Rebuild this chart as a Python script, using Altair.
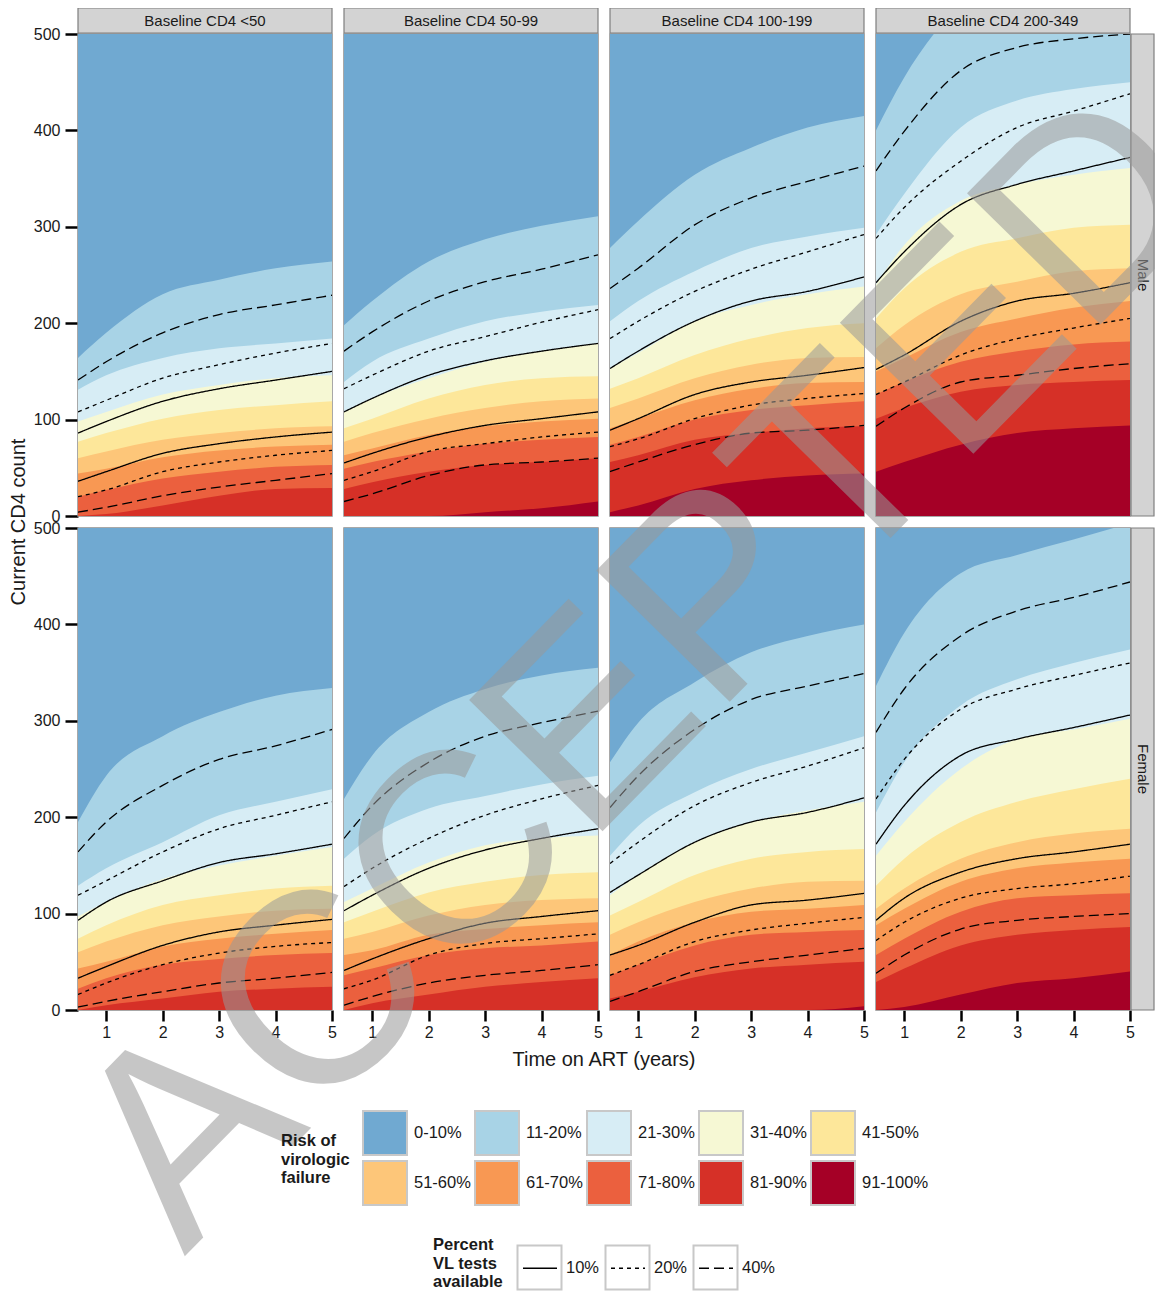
import altair as alt
import pandas as pd

TIMES = [0.5, 1, 2, 3, 4, 5]
SEXES = ["Male", "Female"]
BASELINES = ["Baseline CD4 <50", "Baseline CD4 50-99",
             "Baseline CD4 100-199", "Baseline CD4 200-349"]
RISK_BANDS = ["0-10%", "11-20%", "21-30%", "31-40%", "41-50%",
              "51-60%", "61-70%", "71-80%", "81-90%", "91-100%"]
RISK_COLORS = ["#70a9d1", "#a8d3e6", "#d7edf5", "#f6f8d4", "#fde79a",
               "#fdc679", "#f89853", "#eb603e", "#d63027", "#a50026"]
PCT_LEVELS = ["10%", "20%", "40%"]
LINE_NAMES = ["40% upper", "20% upper", "10% upper",
              "10% lower", "20% lower", "40% lower"]
LINE_PCT = ["40%", "20%", "10%", "10%", "20%", "40%"]
CD4_TOP = 500
WATERMARK = "ACCEPTED"
X_TITLE = "Time on ART (years)"
Y_TITLE = "Current CD4 count"

# Upper edge (current CD4) of bands 11-20% ... 91-100% at TIMES
male_lt50_bands = [
    [164, 190, 230, 245, 257, 264], [131, 146, 164, 174, 179, 184],
    [98, 108, 126, 136, 143, 146], [77, 86, 101, 110, 115, 119],
    [60, 67, 79, 86, 91, 93], [44, 49, 61, 68, 72, 74],
    [20, 27, 39, 46, 51, 53], [0, 2, 11, 21, 28, 29],
    [0, 0, 0, 0, 0, 0]]
male_50_99_bands = [
    [198, 223, 264, 287, 301, 311], [139, 160, 184, 202, 212, 219],
    [108, 122, 143, 160, 171, 179], [91, 101, 122, 136, 143, 145],
    [77, 86, 101, 112, 119, 122], [63, 70, 84, 93, 98, 101],
    [49, 56, 67, 75, 79, 82], [28, 35, 46, 53, 56, 60],
    [0, 0, 0, 4, 8, 15]]
male_100_199_bands = [
    [278, 306, 354, 382, 403, 415], [202, 223, 254, 278, 290, 299],
    [153, 169, 202, 219, 230, 238], [132, 143, 167, 184, 195, 200],
    [112, 122, 143, 157, 164, 165], [91, 101, 120, 132, 138, 139],
    [74, 82, 100, 110, 115, 119], [56, 63, 79, 86, 91, 93],
    [4, 11, 28, 37, 42, 44]]
male_200_349_bands = [
    [400, 455, 530, 560, 580, 600], [292, 334, 403, 431, 443, 450],
    [240, 281, 327, 344, 354, 361], [205, 236, 274, 288, 299, 302],
    [174, 198, 230, 243, 254, 257], [150, 164, 191, 205, 216, 223],
    [126, 139, 160, 171, 178, 181], [101, 112, 129, 136, 139, 141],
    [46, 56, 74, 86, 91, 94]]
female_lt50_bands = [
    [195, 243, 284, 309, 326, 334], [129, 147, 174, 202, 216, 229],
    [97, 112, 136, 150, 160, 169], [74, 88, 109, 119, 126, 129],
    [60, 71, 88, 97, 103, 105], [43, 50, 66, 74, 79, 83],
    [22, 33, 47, 53, 57, 59], [0, 5, 12, 19, 22, 24],
    [0, 0, 0, 0, 0, 0]]
female_50_99_bands = [
    [219, 264, 309, 333, 347, 355], [157, 181, 209, 222, 234, 243],
    [112, 126, 153, 171, 178, 181], [91, 102, 122, 133, 140, 143],
    [74, 81, 98, 109, 114, 116], [57, 62, 78, 84, 88, 91],
    [36, 43, 57, 64, 67, 71], [0, 7, 16, 24, 29, 33],
    [0, 0, 0, 0, 0, 0]]
female_100_199_bands = [
    [257, 298, 340, 371, 388, 400], [160, 191, 226, 250, 267, 284],
    [119, 140, 174, 195, 207, 216], [98, 112, 140, 157, 164, 167],
    [78, 91, 112, 126, 133, 134], [57, 71, 91, 102, 105, 109],
    [36, 47, 67, 78, 81, 83], [12, 19, 34, 43, 47, 50],
    [0, 0, 0, 0, 0, 4]]
female_200_349_bands = [
    [336, 391, 453, 472, 488, 505], [205, 257, 316, 343, 360, 374],
    [160, 195, 250, 281, 291, 302], [129, 157, 195, 216, 229, 240],
    [105, 126, 157, 174, 183, 188], [88, 105, 133, 147, 153, 157],
    [57, 74, 102, 116, 119, 121], [29, 43, 67, 78, 83, 86],
    [0, 3, 16, 28, 33, 40]]

# Contour lines (LINE_NAMES order) at TIMES
male_lt50_lines = [
    [141, 160, 190, 209, 219, 229], [108, 120, 143, 157, 169, 179],
    [86, 98, 119, 132, 141, 150], [36, 46, 65, 75, 82, 87],
    [20, 27, 46, 56, 63, 68], [4, 9, 21, 30, 37, 44]]
male_50_99_lines = [
    [171, 191, 223, 243, 256, 271], [132, 146, 171, 186, 201, 214],
    [108, 122, 146, 161, 171, 179], [55, 65, 82, 94, 101, 108],
    [37, 46, 67, 75, 82, 87], [15, 23, 42, 53, 56, 60]]
male_100_199_lines = [
    [236, 257, 302, 330, 347, 363], [184, 202, 233, 256, 274, 292],
    [153, 171, 202, 223, 233, 248], [89, 101, 126, 139, 146, 154],
    [72, 80, 101, 115, 122, 127], [46, 56, 74, 86, 89, 94]]
male_200_349_lines = [
    [358, 399, 462, 486, 495, 500], [288, 320, 368, 403, 420, 438],
    [242, 274, 323, 344, 358, 372], [152, 167, 202, 223, 231, 242],
    [126, 139, 167, 184, 195, 205], [93, 112, 139, 146, 153, 158]]
female_lt50_lines = [
    [164, 195, 233, 260, 274, 291], [119, 134, 164, 188, 202, 216],
    [93, 112, 134, 153, 162, 172], [33, 45, 67, 81, 88, 94],
    [16, 28, 47, 59, 66, 70], [3, 9, 19, 28, 33, 39]]
female_50_99_lines = [
    [178, 212, 257, 284, 298, 310], [128, 147, 178, 202, 219, 233],
    [103, 119, 147, 166, 178, 188], [41, 53, 74, 90, 97, 103],
    [22, 31, 57, 69, 74, 79], [5, 14, 28, 36, 41, 47]]
female_100_199_lines = [
    [210, 243, 291, 322, 336, 349], [152, 174, 212, 236, 253, 272],
    [122, 140, 174, 195, 205, 220], [57, 67, 91, 109, 114, 121],
    [36, 47, 71, 83, 90, 96], [9, 19, 40, 50, 57, 64]]
female_200_349_lines = [
    [288, 333, 388, 414, 428, 444], [219, 260, 312, 333, 347, 360],
    [172, 212, 264, 281, 293, 306], [93, 116, 143, 157, 164, 172],
    [72, 91, 116, 126, 131, 139], [38, 57, 84, 93, 97, 100]]

PANELS = {
    ("Male", BASELINES[0]): (male_lt50_bands, male_lt50_lines),
    ("Male", BASELINES[1]): (male_50_99_bands, male_50_99_lines),
    ("Male", BASELINES[2]): (male_100_199_bands, male_100_199_lines),
    ("Male", BASELINES[3]): (male_200_349_bands, male_200_349_lines),
    ("Female", BASELINES[0]): (female_lt50_bands, female_lt50_lines),
    ("Female", BASELINES[1]): (female_50_99_bands, female_50_99_lines),
    ("Female", BASELINES[2]): (female_100_199_bands, female_100_199_lines),
    ("Female", BASELINES[3]): (female_200_349_bands, female_200_349_lines),
}

rows = []
for (sex, base), (bands, lines) in PANELS.items():
    uppers = [[CD4_TOP] * len(TIMES)] + bands
    for band, vals in zip(RISK_BANDS, uppers):
        for t, v in zip(TIMES, vals):
            rows.append(dict(kind="band", sex=sex, base=base, band=band, t=t, cd4=v))
    for name, pct, vals in zip(LINE_NAMES, LINE_PCT, lines):
        for t, v in zip(TIMES, vals):
            rows.append(dict(kind="line", sex=sex, base=base, line=name, pct=pct,
                             pctbox=pct, t=t, cd4=v))
for base in BASELINES:
    rows.append(dict(kind="strip_top", sex="Male", base=base, label=base))
for sex in SEXES:
    rows.append(dict(kind="strip_right", sex=sex, base=BASELINES[-1], label=sex))
rows.append(dict(kind="ytitle", sex="Male", base=BASELINES[0], label=Y_TITLE))
rows.append(dict(kind="xtitle", sex="Female", base=BASELINES[1], label=X_TITLE))
rows.append(dict(kind="wm", sex="Female", base=BASELINES[-1], label=WATERMARK))
df = pd.DataFrame(rows)

W, H = 254, 482
FONT = "Liberation Sans"

x_enc = alt.X("t:Q", scale=alt.Scale(domain=[0.5, 5], nice=False, zero=False),
              axis=alt.Axis(values=[1, 2, 3, 4, 5], title=None, format="d"))
y_enc = alt.Y("cd4:Q", stack=None, scale=alt.Scale(domain=[0, 500], nice=False),
              axis=alt.Axis(values=[0, 100, 200, 300, 400, 500], title=None))

risk_legend = alt.Legend(
    title=["Risk of", "virologic", "failure"], orient="none",
    legendX=203, legendY=1076, direction="horizontal", columns=5,
    symbolType="square", symbolSize=1936, symbolStrokeColor="#c8c8c8",
    symbolStrokeWidth=2, symbolOpacity=1, labelFontSize=16.5, labelOffset=6,
    columnPadding=0, rowPadding=-2, gridAlign="each", titleOrient="left",
    titleFontSize=16.5, titleFontWeight="bold", titleLineHeight=18.5,
    titlePadding=12, titleAnchor="middle", labelColor="#1a1a1a",
    titleColor="#1a1a1a", labelFont=FONT, titleFont=FONT)
fill_enc = alt.Fill("band:N", scale=alt.Scale(domain=RISK_BANDS, range=RISK_COLORS),
                    legend=risk_legend)

line_legend = alt.Legend(
    title=["Percent", "VL tests", "available"], orient="none",
    legendX=355, legendY=1216, direction="horizontal",
    symbolType="stroke", symbolSize=1156, symbolStrokeColor="black",
    symbolStrokeWidth=1.5, labelFontSize=16.5, labelOffset=8, columnPadding=8,
    titleOrient="left", titleFontSize=16.5, titleFontWeight="bold",
    titleLineHeight=18.5, titlePadding=19, titleAnchor="middle",
    labelColor="#1a1a1a", titleColor="#1a1a1a", labelFont=FONT, titleFont=FONT)

box_legend = alt.Legend(
    title=None, orient="none", legendX=438.5, legendY=1210.5,
    direction="horizontal", symbolType="square", symbolSize=1936,
    symbolStrokeColor="#c8c8c8", symbolStrokeWidth=2, symbolOpacity=1,
    symbolFillColor="transparent", labelExpr="''", labelFontSize=16.5,
    labelOffset=0, columnPadding=36, labelFont=FONT)

layers = []
for b in RISK_BANDS:
    layers.append(
        alt.Chart().mark_area(interpolate="monotone", clip=True)
        .encode(x=x_enc, y=y_enc, fill=fill_enc)
        .transform_filter(f"datum.kind == 'band' && datum.band == '{b}'")
    )

layers.append(
    alt.Chart().mark_point(opacity=0, color="#c8c8c8", filled=False, clip=True)
    .encode(x=x_enc, y=y_enc,
            shape=alt.Shape("pctbox:N", scale=alt.Scale(
                range=["square", "square", "square"]),
                legend=box_legend))
    .transform_filter("datum.kind == 'line'")
)

layers.append(
    alt.Chart().mark_line(interpolate="monotone", clip=True, color="black",
                          strokeWidth=1.3)
    .encode(x=x_enc, y=y_enc,
            strokeDash=alt.StrokeDash("pct:N", scale=alt.Scale(
                domain=PCT_LEVELS, range=[[1, 0], [4, 4], [10, 5]]),
                legend=line_legend),
            detail="line:N")
    .transform_filter("datum.kind == 'line'")
)

layers.append(
    alt.Chart().mark_rect(fill="#d3d3d3", stroke="#7f7f7f", strokeWidth=1.2)
    .encode(x=alt.value(0), x2=alt.value(W), y=alt.value(-26), y2=alt.value(-1))
    .transform_filter("datum.kind == 'strip_top'")
)
layers.append(
    alt.Chart().mark_text(fontSize=15, color="#1a1a1a", font=FONT,
                          baseline="middle", align="center")
    .encode(x=alt.value(W / 2), y=alt.value(-13), text="label:N")
    .transform_filter("datum.kind == 'strip_top'")
)
layers.append(
    alt.Chart().mark_rect(fill="#d3d3d3", stroke="#7f7f7f", strokeWidth=1.2)
    .encode(x=alt.value(W + 1), x2=alt.value(W + 24), y=alt.value(0), y2=alt.value(H))
    .transform_filter("datum.kind == 'strip_right'")
)
layers.append(
    alt.Chart().mark_text(fontSize=15, color="#1a1a1a", font=FONT, angle=90,
                          baseline="middle", align="center")
    .encode(x=alt.value(W + 12.5), y=alt.value(H / 2), text="label:N")
    .transform_filter("datum.kind == 'strip_right'")
)
layers.append(
    alt.Chart().mark_text(fontSize=20, color="#1a1a1a", font=FONT, angle=270,
                          baseline="middle", align="center")
    .encode(x=alt.value(-59), y=alt.value(H + 6), text="label:N")
    .transform_filter("datum.kind == 'ytitle'")
)
layers.append(
    alt.Chart().mark_text(fontSize=20, color="#1a1a1a", font=FONT,
                          baseline="middle", align="center")
    .encode(x=alt.value(W + 6), y=alt.value(H + 50), text="label:N")
    .transform_filter("datum.kind == 'xtitle'")
)
layers.append(
    alt.Chart().mark_text(fontSize=272, font=FONT, color="#999999", opacity=0.55,
                          angle=314.5, baseline="middle", align="center")
    .encode(x=alt.value(-231), y=alt.value(143), text="label:N")
    .transform_filter("datum.kind == 'wm'")
)

chart = (
    alt.layer(*layers).properties(width=W, height=H)
    .facet(row=alt.Row("sex:N", sort=SEXES, header=None),
           column=alt.Column("base:N", sort=BASELINES, header=None),
           data=df, spacing={"row": 12, "column": 12}, bounds="flush")
    .properties(padding={"left": 70, "top": 26, "right": 1077, "bottom": 1257},
                autosize=alt.AutoSizeParams(type="none"))
    .configure(font=FONT)
    .configure_view(stroke="#8c8c8c", strokeWidth=1.5)
    .configure_axis(grid=False, domain=False, tickColor="black", tickWidth=2.5,
                    labelFontSize=16, labelColor="#1a1a1a",
                    labelFlush=False, labelFont=FONT)
    .configure_axisX(tickSize=11, labelPadding=3)
    .configure_axisY(tickSize=13, labelPadding=5)
)

chart.save("out.html", embed_options={"renderer": "svg", "actions": False})
